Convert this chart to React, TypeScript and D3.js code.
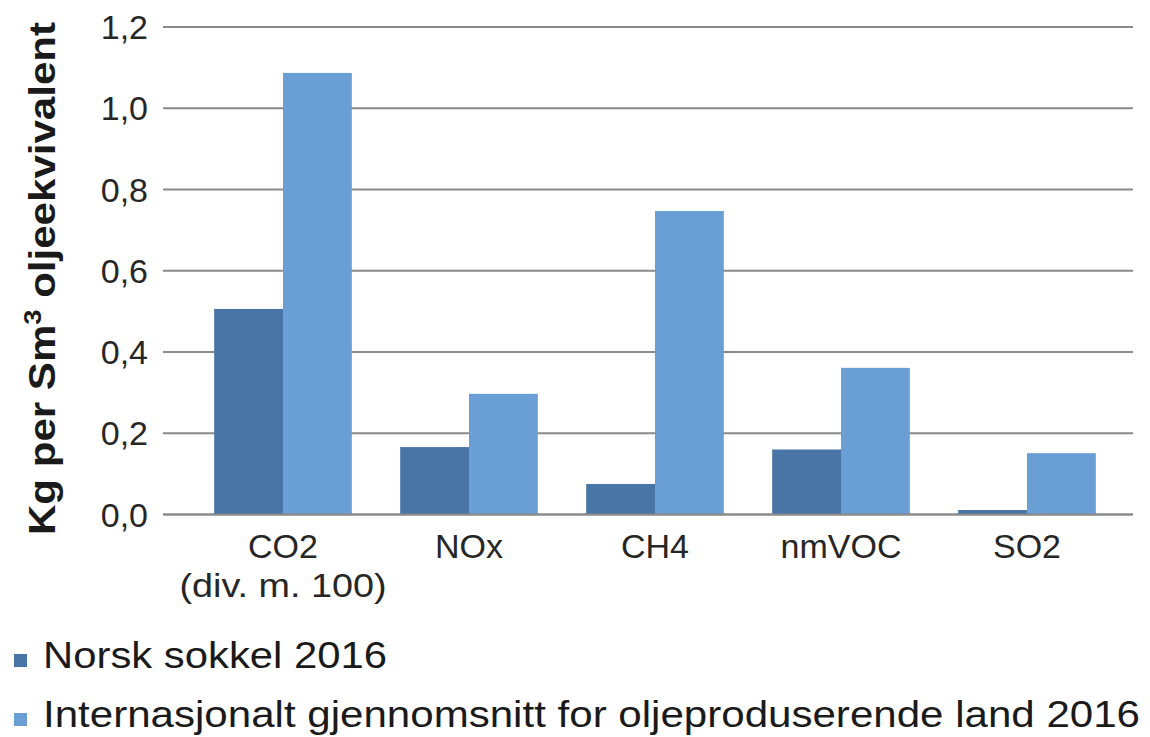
import React, { useEffect, useRef } from 'react';
import * as d3 from 'd3';

const categories = ['CO2', 'NOx', 'CH4', 'nmVOC', 'SO2'];
const categorySubLabels = ['(div. m. 100)', '', '', '', ''];
const seriesNames = ['Norsk sokkel 2016', 'Internasjonalt gjennomsnitt for oljeproduserende land 2016'];
const norskValues = [0.506, 0.166, 0.075, 0.16, 0.011];
const internasjonaltValues = [1.087, 0.297, 0.747, 0.361, 0.151];
const yTicks = [0, 0.2, 0.4, 0.6, 0.8, 1.0, 1.2];

const colors = ['#4874a6', '#6a9fd6'];

export default function App() {
  const svgRef = useRef<SVGSVGElement>(null);
  const width = 1150;
  const height = 737;

  useEffect(() => {
    if (!svgRef.current) return;
    const svg = d3.select(svgRef.current);
    svg.selectAll('*').remove();

    const font = "'Liberation Sans', Arial, sans-serif";
    const gridLeft = 163;
    const gridRight = 1133;

    const y = d3.scaleLinear().domain([0, 1.2]).range([514.5, 27]);

    const x0 = d3.scaleBand()
      .domain(categories)
      .range([190, 1120])
      .paddingInner(0.26)
      .paddingOuter(0.13);

    const x1 = d3.scaleBand()
      .domain(seriesNames)
      .range([0, x0.bandwidth()]);

    // gridlines
    svg.append('g')
      .selectAll('line')
      .data(yTicks)
      .enter()
      .append('line')
      .attr('x1', gridLeft)
      .attr('x2', gridRight)
      .attr('y1', d => y(d))
      .attr('y2', d => y(d))
      .attr('stroke', '#8a8a8a')
      .attr('stroke-width', 2);

    // tick labels
    svg.append('g')
      .selectAll('text')
      .data(yTicks)
      .enter()
      .append('text')
      .attr('x', 148)
      .attr('y', d => y(d) + 12)
      .attr('text-anchor', 'end')
      .attr('font-family', font)
      .attr('font-size', 34)
      .attr('fill', '#262626')
      .text(d => d3.format('.1f')(d).replace('.', ','));

    // bars
    const rows = categories.map((c, i) => ({ c, vals: [norskValues[i], internasjonaltValues[i]] }));
    const groups = svg.append('g')
      .selectAll('g')
      .data(rows)
      .enter()
      .append('g')
      .attr('transform', d => `translate(${x0(d.c)},0)`);

    groups.selectAll('rect')
      .data(d => d.vals.map((v, k) => ({ s: seriesNames[k], v, k })))
      .enter()
      .append('rect')
      .attr('x', d => x1(d.s) || 0)
      .attr('width', x1.bandwidth())
      .attr('y', d => y(d.v))
      .attr('height', d => y(0) - y(d.v))
      .attr('fill', d => colors[d.k]);

    // baseline redrawn over bars
    svg.append('line')
      .attr('x1', gridLeft)
      .attr('x2', gridRight)
      .attr('y1', y(0))
      .attr('y2', y(0))
      .attr('stroke', '#8a8a8a')
      .attr('stroke-width', 2);

    // category labels
    const cx = (c: string) => (x0(c) || 0) + x0.bandwidth() / 2;
    svg.append('g')
      .selectAll('text')
      .data(categories)
      .enter()
      .append('text')
      .attr('x', d => cx(d))
      .attr('y', 558)
      .attr('text-anchor', 'middle')
      .attr('font-family', font)
      .attr('font-size', 34)
      .attr('fill', '#262626')
      .text(d => d);

    svg.append('g')
      .selectAll('text')
      .data(categories.map((c, i) => ({ c, sub: categorySubLabels[i] })).filter(d => d.sub))
      .enter()
      .append('text')
      .attr('x', d => cx(d.c))
      .attr('y', 597)
      .attr('text-anchor', 'middle')
      .attr('font-family', font)
      .attr('font-size', 34)
      .attr('textLength', 207)
      .attr('lengthAdjust', 'spacingAndGlyphs')
      .attr('fill', '#262626')
      .text(d => d.sub);

    // y axis title
    const title = svg.append('text')
      .attr('transform', `translate(55,${(535 + 22) / 2}) rotate(-90)`)
      .attr('text-anchor', 'middle')
      .attr('font-family', font)
      .attr('font-size', 37)
      .attr('font-weight', 'bold')
      .attr('fill', '#1a1a1a')
      .attr('textLength', 513)
      .attr('lengthAdjust', 'spacingAndGlyphs');
    title.append('tspan').text('Kg per Sm');
    title.append('tspan').attr('font-size', 24).attr('dy', -14).text('3');
    title.append('tspan').attr('dy', 14).text(' oljeekvivalent');

    // legend
    const legendY = [668, 727];
    const legendLen = [344, 1097];
    const legend = svg.append('g')
      .selectAll('g')
      .data(seriesNames)
      .enter()
      .append('g');
    legend.append('rect')
      .attr('x', 14)
      .attr('y', (d, i) => legendY[i] - 14)
      .attr('width', 13)
      .attr('height', 13)
      .attr('fill', (d, i) => colors[i]);
    legend.append('text')
      .attr('x', 43)
      .attr('y', (d, i) => legendY[i])
      .attr('font-family', font)
      .attr('font-size', 36)
      .attr('fill', '#1a1a1a')
      .attr('textLength', (d, i) => legendLen[i])
      .attr('lengthAdjust', 'spacingAndGlyphs')
      .text(d => d);
  }, []);

  return (
    <svg
      ref={svgRef}
      width={width}
      height={height}
      style={{ position: 'absolute', left: 0, top: 0, background: '#fff' }}
    />
  );
}
